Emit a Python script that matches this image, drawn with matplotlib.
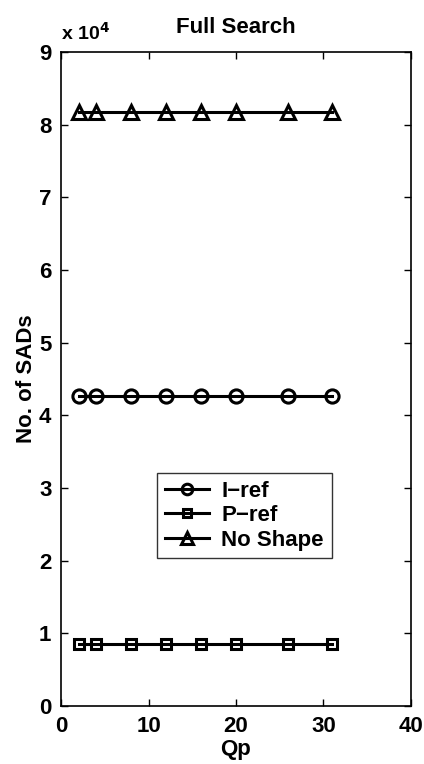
import matplotlib
matplotlib.use("Agg")
import matplotlib.pyplot as plt

plt.rcParams['font.family'] = ['Liberation Sans', 'DejaVu Sans']
plt.rcParams['font.weight'] = 'bold'

qp = [2, 4, 8, 12, 16, 20, 26, 31]
i_ref = [42600, 42600, 42600, 42600, 42600, 42600, 42600, 42600]
p_ref = [8500, 8500, 8500, 8500, 8500, 8500, 8500, 8500]
no_shape = [81700, 81700, 81700, 81700, 81700, 81700, 81700, 81700]
labels = ['I\u2212ref', 'P\u2212ref', 'No Shape']
yticks = [0, 1, 2, 3, 4, 5, 6, 7, 8, 9]

fig = plt.figure(figsize=(4.24, 7.64), dpi=100)
ax = fig.add_axes([0.144, 0.076, 0.825, 0.856])

kw = dict(color='black', linewidth=2.2, markerfacecolor='none', markeredgewidth=2.2)
ax.plot(qp, i_ref, marker='o', markersize=9.5, label=labels[0], **kw)
ax.plot(qp, p_ref, marker='s', markersize=7, label=labels[1], **kw)
ax.plot(qp, no_shape, marker='^', markersize=10, label=labels[2], **kw)

ax.set_xlim(0, 40)
ax.set_ylim(0, 90000)
ax.set_xticks([0, 10, 20, 30, 40])
ax.set_yticks([v * 10000 for v in yticks])
ax.set_yticklabels([str(v) for v in yticks])
ax.text(0.0, 1.012, r'x 10$^{\mathbf{4}}$', transform=ax.transAxes, fontsize=14,
        fontweight='bold', ha='left', va='bottom')

ax.tick_params(direction='in', top=True, right=True, labelsize=16, length=5, width=1, pad=7)
for lab in ax.get_xticklabels() + ax.get_yticklabels():
    lab.set_fontweight('bold')
for sp in ax.spines.values():
    sp.set_linewidth(1.2)

ax.set_title('Full Search', fontsize=16, fontweight='bold', pad=14)
ax.set_xlabel('Qp', fontsize=16, fontweight='bold', labelpad=2)
ax.set_ylabel('No. of SADs', fontsize=16, fontweight='bold', labelpad=1)

leg = ax.legend(loc='upper left', bbox_to_anchor=(0.274, 0.356), fontsize=16,
                frameon=True, fancybox=False, edgecolor='black', handlelength=2.0,
                borderpad=0.35, labelspacing=0.15, handletextpad=0.55, borderaxespad=0,
                markerscale=0.8)
leg.get_frame().set_linewidth(1.0)
for t in leg.get_texts():
    t.set_fontweight('bold')

fig.savefig('out.png', dpi=100)
